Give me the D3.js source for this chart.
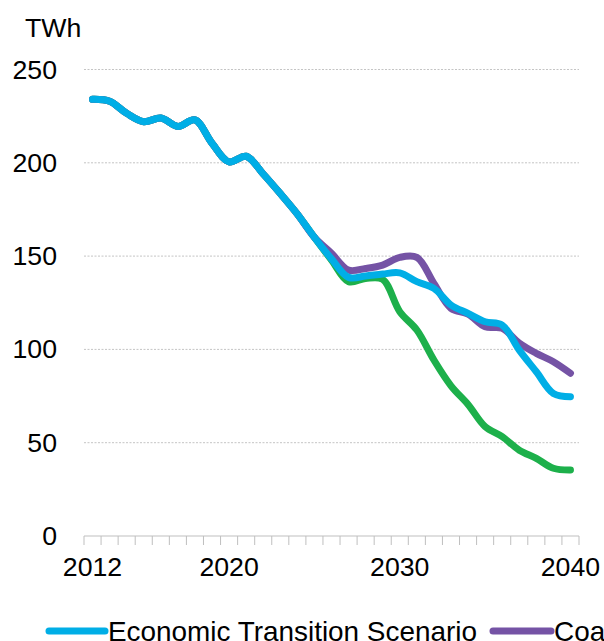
<!DOCTYPE html>
<html>
<head>
<meta charset="utf-8">
<script src="https://cdn.jsdelivr.net/npm/d3@7"></script>
<style>
  body { margin: 0; background: #fff; overflow: hidden; }
  svg { display: block; font-family: "Liberation Sans", Arial, sans-serif; }
</style>
</head>
<body>
<div id="chart"></div>
<script>
// years on the category axis
var years = d3.range(2012, 2041);
var yearLabels = [2012, 2020, 2030, 2040];
var yTicks = [0, 50, 100, 150, 200, 250];

// series values (TWh)
var economicTransition = [234, 233, 226.5, 222, 224, 219.5, 223, 210.5, 200.5, 203.5, 194, 183.5, 172.5, 160, 148.5,
  138.6, 139.3, 140.4, 141, 136.3, 132.7, 123.8, 119.3, 114.8, 113, 99.6, 88, 76.4, 74.6];
var coalPhaseOut = [234, 233, 226.5, 222, 224, 219.5, 223, 210.5, 200.5, 203.5, 194, 183.5, 172.5, 160, 151.5,
  142.5, 143.4, 145.2, 149.3, 149.3, 135.4, 122, 118.9, 112.1, 111.3, 103.4, 97.9, 93.4, 87.2];
var thirdScenario = [234, 233, 226.5, 222, 224, 219.5, 223, 210.5, 200.5, 203.5, 194, 183.5, 172.5, 160, 147.9,
  136.3, 138, 137.5, 120.2, 110.4, 94.3, 80.5, 70.5, 58.6, 53.2, 46, 41.6, 36.3, 35.4];

var seriesNames = ["Economic Transition Scenario", "Coal Phase-out Scenario", "Climate Scenario"];
var seriesColors = ["#00aee6", "#7553a5", "#1db04b"];

var svgWidth = 604, svgHeight = 641;
var svg = d3.select("#chart").append("svg")
  .attr("width", svgWidth)
  .attr("height", svgHeight);

var xScale = d3.scaleBand().domain(years).range([84, 579]).padding(0);
var yScale = d3.scaleLinear().domain([0, 250]).range([536, 69.5]);
var xc = d => xScale(d) + xScale.bandwidth() / 2;

// gridlines
svg.append("g").selectAll("line")
  .data(yTicks.filter(d => d > 0))
  .enter().append("line")
  .attr("x1", 84).attr("x2", 579)
  .attr("y1", d => yScale(d)).attr("y2", d => yScale(d))
  .attr("stroke", "#c4c4c4")
  .attr("stroke-width", 1)
  .attr("stroke-dasharray", "2,1.5");

// y axis labels
var leftAxis = d3.axisLeft(yScale).tickValues(yTicks).tickSize(0).tickPadding(27);
var yAxis = svg.append("g").attr("transform", "translate(84,0)").call(leftAxis);
yAxis.select(".domain").remove();
yAxis.selectAll("text")
  .attr("font-size", "26.7px")
  .attr("font-family", "Liberation Sans, Arial, sans-serif")
  .attr("fill", "#000");

// unit label
svg.append("text")
  .attr("x", 25).attr("y", 36.5)
  .attr("font-size", "26.7px")
  .attr("fill", "#000")
  .text("TWh");

// x axis line and category boundary ticks
var xAxisG = svg.append("g");
xAxisG.append("line")
  .attr("x1", 84).attr("x2", 579)
  .attr("y1", 536).attr("y2", 536)
  .attr("stroke", "#bfbfbf").attr("stroke-width", 1);
var boundaries = years.map(d => xScale(d)).concat([579]);
xAxisG.selectAll(".tickmark")
  .data(boundaries)
  .enter().append("line")
  .attr("class", "tickmark")
  .attr("x1", d => d).attr("x2", d => d)
  .attr("y1", 536).attr("y2", 545)
  .attr("stroke", "#bfbfbf").attr("stroke-width", 1);

var bottomAxis = d3.axisBottom(xScale).tickValues(yearLabels).tickSize(0).tickPadding(21);
var xAxis = svg.append("g").attr("transform", "translate(0,536)").call(bottomAxis);
xAxis.select(".domain").remove();
xAxis.selectAll("text")
  .attr("font-size", "26.7px")
  .attr("font-family", "Liberation Sans, Arial, sans-serif")
  .attr("fill", "#000");

// lines
var allSeries = [economicTransition, coalPhaseOut, thirdScenario];
var line = d3.line()
  .x((d, i) => xc(years[i]))
  .y(d => yScale(d))
  .curve(d3.curveCatmullRom.alpha(0.5));

var drawOrder = [2, 1, 0];
svg.append("g").selectAll("path")
  .data(drawOrder)
  .enter().append("path")
  .attr("d", i => line(allSeries[i]))
  .attr("fill", "none")
  .attr("stroke", i => seriesColors[i])
  .attr("stroke-width", 7)
  .attr("stroke-linecap", "round")
  .attr("stroke-linejoin", "round");

// legend (runs past the right edge, as in the original)
var legend = svg.append("g").attr("transform", "translate(0,631)");
var legendX = [49, 493, 990];
var legendLen = [56, 58, 56];
seriesNames.forEach(function (name, i) {
  var g = legend.append("g").attr("transform", `translate(${legendX[i]},0)`);
  g.append("line")
    .attr("x1", 0).attr("x2", legendLen[i])
    .attr("stroke", seriesColors[i])
    .attr("stroke-width", 7)
    .attr("stroke-linecap", "round");
  g.append("text")
    .attr("x", legendLen[i] + 3).attr("y", 9.8)
    .attr("font-size", "27.9px")
    .attr("fill", "#000")
    .text(name);
});
</script>
</body>
</html>
